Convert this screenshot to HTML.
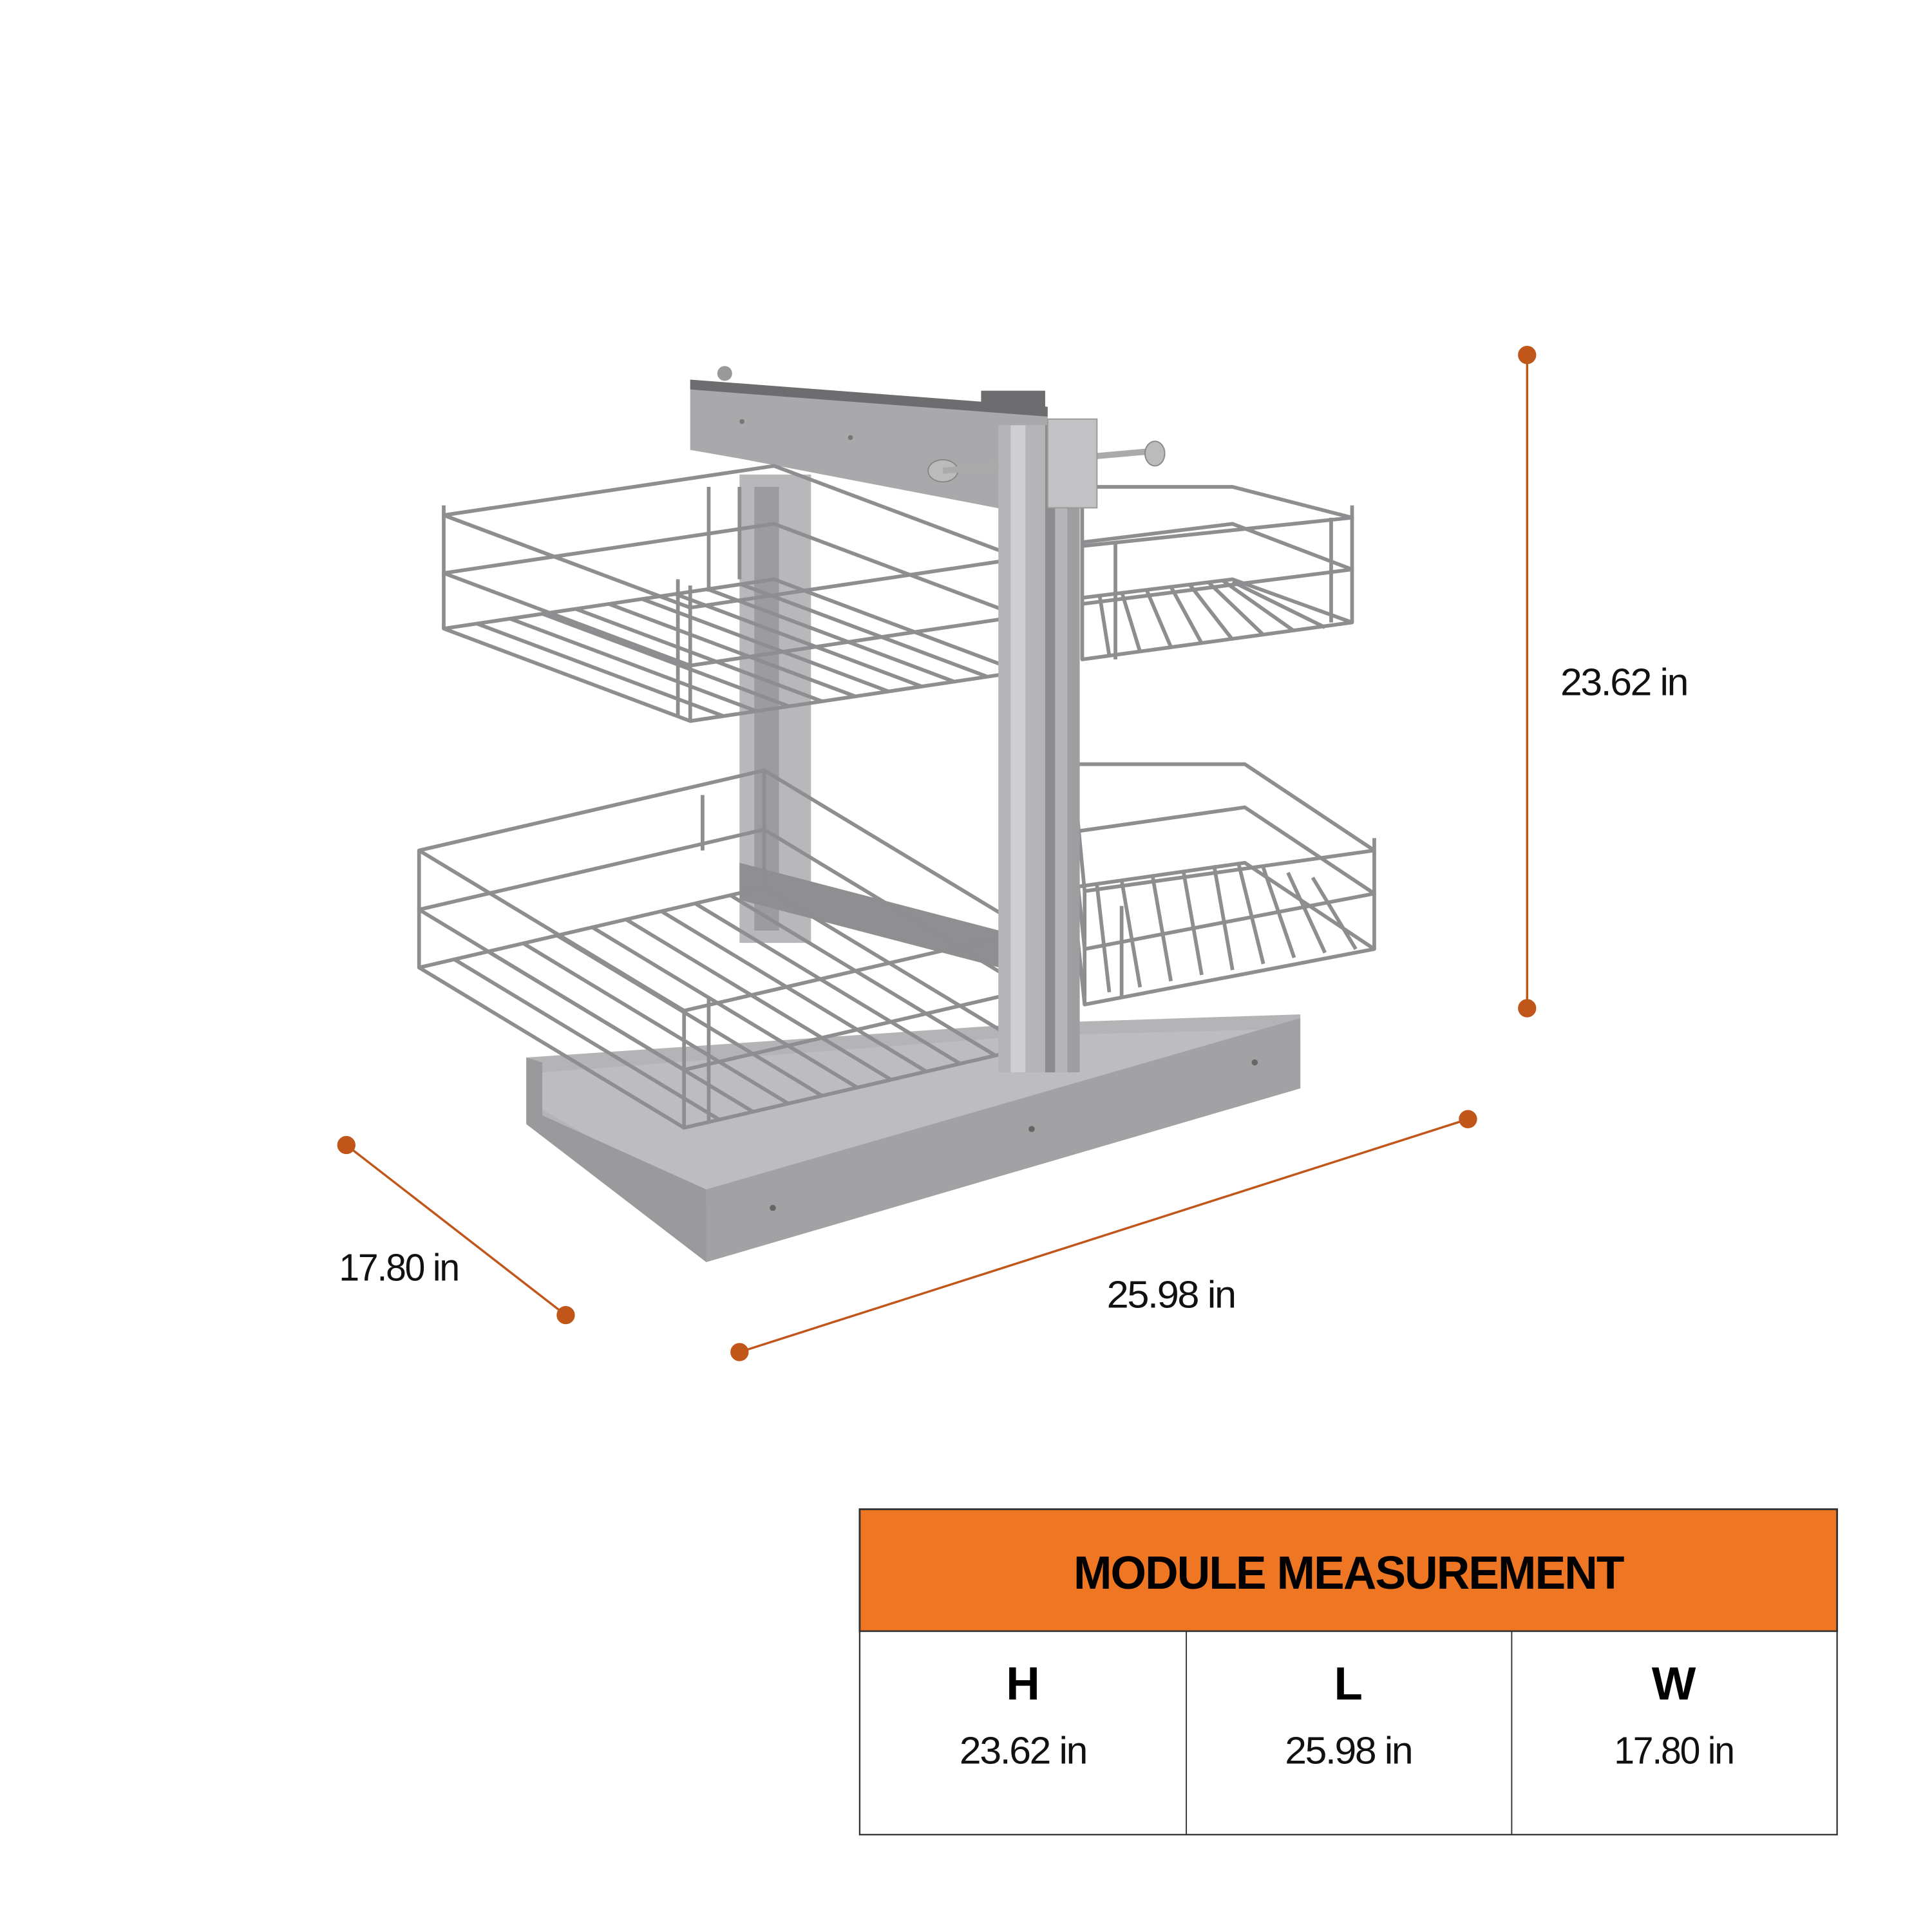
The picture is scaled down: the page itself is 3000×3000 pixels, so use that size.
<!DOCTYPE html>
<html><head><meta charset="utf-8"><style>
html,body{margin:0;padding:0;background:#fff}
svg{display:block}
</style></head><body>
<svg width="3000" height="3000" viewBox="0 0 1567.5 1567.5" xmlns="http://www.w3.org/2000/svg">
<rect width="1567.5" height="1567.5" fill="#fff"/>
<!-- base tray -->
<polygon points="427,858 840,830 1055,823 1055,883 573,1024 427,912" fill="#b4b4b6"/>
<polygon points="440,870 840,840 1040,835 1040,850 585,985 440,900" fill="#bdbdbf"/>
<polygon points="573,965 1055,826 1055,883 573,1024" fill="#a2a2a4"/>
<polygon points="427,858 440,862 440,905 573,965 573,1024 427,912" fill="#9a9a9c"/>
<circle cx="627" cy="980" r="2.5" fill="#666"/><circle cx="837" cy="916" r="2.5" fill="#666"/><circle cx="1018" cy="862" r="2.5" fill="#666"/>
<!-- rear frame -->
<rect x="600" y="385" width="58" height="380" fill="#b8b8ba"/>
<rect x="612" y="395" width="20" height="360" fill="#9c9c9e"/>
<polygon points="600,700 830,760 830,790 600,730" fill="#8f8f91"/>
<!-- header bar -->
<polygon points="560,308 850,330 850,420 600,372 560,365" fill="#a9a9ab"/>
<polygon points="560,308 850,330 850,338 560,316" fill="#6d6d70"/>
<rect x="796" y="317" width="52" height="14" fill="#6d6d70"/>
<circle cx="588" cy="303" r="6" fill="#999"/>
<circle cx="602" cy="342" r="2" fill="#777"/><circle cx="690" cy="355" r="2" fill="#777"/>
<ellipse cx="765" cy="382" rx="12" ry="9" fill="#bbb" stroke="#888"/>
<line x1="765" y1="382" x2="828" y2="376" stroke="#aaa" stroke-width="5"/>
<line x1="890" y1="370" x2="935" y2="366" stroke="#aaa" stroke-width="5"/>
<ellipse cx="937" cy="368" rx="8" ry="10" fill="#bbb" stroke="#888"/>
<g fill="none" stroke="#8e8e90" stroke-width="3" stroke-linejoin="round">
<!-- lower-left basket -->
<polygon points="340,785 555,915 835,850 620,720"/>
<polygon points="340,738 555,868 835,803 620,673"/>
<polygon points="340,690 555,820 835,755 620,625"/>
<path d="M368,778L583,908M396,772L611,902M424,765L639,895M452,759L667,889M480,752L695,882M508,746L723,876M536,739L751,869M564,733L779,863M592,726L807,856"/>
<path d="M340,785V690M555,915V820M835,850V755M620,720V625M575,910V810M570,645V690"/>
<!-- lower-right basket -->
<polygon points="880,815 1115,770 1010,700 870,720"/>
<polygon points="880,770 1115,725 1010,655 870,675"/>
<polygon points="880,723 1115,690 1010,620 870,620"/>
<path d="M900,805L890,718M925,801L910,714M950,796L935,710M975,791L960,706M1000,787L985,702M1025,782L1005,701M1050,777L1025,704M1075,773L1045,708M1100,770L1065,712"/>
<path d="M880,815V723M1115,770V680M910,810V735"/>
<!-- upper-left basket -->
<polygon points="360,510 560,585 828,545 628,470"/>
<polygon points="360,465 560,540 828,500 628,425"/>
<polygon points="360,418 560,493 828,453 628,378"/>
<path d="M387,506L587,581M414,502L614,577M440,498L640,573M467,494L667,569M494,490L694,565M521,486L721,561M548,482L748,557M574,478L774,553M601,474L801,549"/>
<path d="M360,510V410M560,585V475M828,545V445M575,480V395M600,470V395M550,580V470"/>
<!-- upper-right basket -->
<polygon points="878,535 1097,505 1000,470 878,485"/>
<polygon points="878,490 1097,462 1000,425 878,440"/>
<polygon points="878,443 1097,420 1000,395 878,395"/>
<path d="M900,532L892,482M925,529L910,480M950,525L930,478M975,522L950,476M1000,519L965,474M1025,515L980,472M1050,512L992,471M1075,509L1000,472"/>
<path d="M878,535V435M1097,505V410M905,535V440M1080,505V420"/>
</g>
<!-- front column -->
<rect x="810" y="345" width="66" height="525" fill="#b5b5b7"/>
<rect x="820" y="345" width="12" height="525" fill="#cfcfd1"/>
<rect x="848" y="345" width="8" height="525" fill="#8c8c8e"/>
<rect x="866" y="345" width="10" height="525" fill="#9e9ea0"/>
<rect x="850" y="340" width="40" height="72" fill="#c2c2c4" stroke="#999"/>
<!-- dimension lines -->
<g stroke="#c0561a" stroke-width="1.8" fill="#c0561a">
<line x1="1239" y1="288" x2="1239" y2="818"/>
<circle cx="1239" cy="288" r="6.5"/><circle cx="1239" cy="818" r="6.5"/>
<line x1="281" y1="929" x2="459" y2="1067"/>
<circle cx="281" cy="929" r="6.5"/><circle cx="459" cy="1067" r="6.5"/>
<line x1="600" y1="1097" x2="1191" y2="908"/>
<circle cx="600" cy="1097" r="6.5"/><circle cx="1191" cy="908" r="6.5"/>
</g>
<g font-family="Liberation Sans, sans-serif" font-size="31" fill="#111" letter-spacing="-1.2">
<text x="1266" y="564" textLength="103" lengthAdjust="spacingAndGlyphs">23.62 in</text>
<text x="275" y="1039" textLength="97" lengthAdjust="spacingAndGlyphs">17.80 in</text>
<text x="898" y="1061" textLength="104" lengthAdjust="spacingAndGlyphs">25.98 in</text>
</g>
<!-- table -->
<rect x="697.5" y="1224.5" width="793" height="99" fill="#ef7622" stroke="#333" stroke-width="1.5"/>
<rect x="697.5" y="1323.5" width="793" height="165" fill="#fff" stroke="#333" stroke-width="1.2"/>
<line x1="962.5" y1="1323" x2="962.5" y2="1489" stroke="#333" stroke-width="1"/>
<line x1="1226.5" y1="1323" x2="1226.5" y2="1489" stroke="#333" stroke-width="1"/>
<text x="1094" y="1289" text-anchor="middle" font-family="Liberation Sans, sans-serif" font-weight="bold" font-size="38" fill="#000" letter-spacing="-1" textLength="446" lengthAdjust="spacingAndGlyphs">MODULE MEASUREMENT</text>
<g font-family="Liberation Sans, sans-serif" font-weight="bold" font-size="38" fill="#000" text-anchor="middle">
<text x="830" y="1379">H</text><text x="1094" y="1379">L</text><text x="1358" y="1379">W</text>
</g>
<g font-family="Liberation Sans, sans-serif" font-size="31" fill="#111" text-anchor="middle" letter-spacing="-1.2">
<text x="830" y="1431" textLength="103" lengthAdjust="spacingAndGlyphs">23.62 in</text><text x="1094" y="1431" textLength="103" lengthAdjust="spacingAndGlyphs">25.98 in</text><text x="1358" y="1431" textLength="97" lengthAdjust="spacingAndGlyphs">17.80 in</text>
</g>
</svg>
</body></html>
